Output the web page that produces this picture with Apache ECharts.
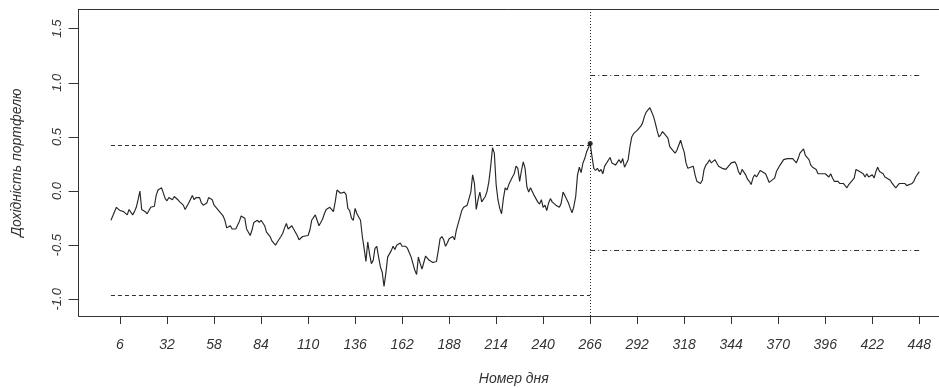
<!DOCTYPE html>
<html>
<head>
<meta charset="utf-8">
<script src="https://cdn.jsdelivr.net/npm/echarts@6/dist/echarts.min.js"></script>
<style>
  html, body { margin: 0; padding: 0; background: #fff; }
  #chart { width: 939px; height: 388px; }
</style>
</head>
<body>
<div id="chart"></div>
<script>
// Day number of each observation
const days = [
  1, 4, 6, 8, 10, 11, 13, 14, 15, 16, 17, 18, 20, 21, 23, 24, 25, 26, 27, 29,
  30, 31, 32, 33, 35, 36, 38, 39, 41, 42, 44, 46, 47, 48, 50, 51, 52, 54, 55, 57,
  58, 60, 61, 63, 64, 65, 67, 68, 69, 70, 72, 73, 75, 76, 78, 79, 80, 82, 83, 84,
  86, 87, 89, 90, 92, 93, 95, 96, 97, 98, 99, 101, 102, 104, 105, 107, 108, 110, 111, 112,
  114, 115, 116, 118, 119, 120, 122, 123, 124, 125, 126, 128, 130, 131, 132, 133, 134, 135, 136, 137,
  139, 140, 141, 142, 143, 144, 145, 146, 147, 148, 149, 150, 151, 152, 153, 154, 155, 156, 157, 158,
  159, 161, 162, 164, 165, 166, 167, 169, 170, 171, 172, 173, 175, 176, 177, 179, 181, 182, 183, 184,
  185, 186, 187, 188, 190, 191, 192, 193, 194, 195, 196, 197, 198, 199, 200, 201, 202, 203, 204, 205,
  206, 208, 209, 210, 211, 212, 213, 214, 215, 216, 217, 218, 219, 220, 221, 223, 224, 225, 226, 227,
  228, 229, 230, 231, 232, 233, 235, 236, 237, 238, 239, 240, 241, 242, 243, 244, 245, 246, 247, 249,
  250, 251, 252, 253, 254, 255, 256, 257, 258, 259, 260, 261, 262, 263, 264, 265, 266, 267, 268, 269,
  270, 271, 272, 273, 274, 275, 277, 278, 279, 280, 282, 283, 284, 285, 287, 288, 289, 290, 292, 293,
  294, 295, 296, 297, 298, 299, 300, 301, 302, 303, 304, 305, 306, 307, 308, 309, 310, 311, 312, 313,
  314, 316, 317, 318, 319, 320, 321, 323, 324, 325, 327, 328, 329, 330, 331, 332, 333, 335, 336, 337,
  339, 340, 341, 343, 344, 346, 347, 348, 349, 350, 352, 353, 354, 355, 356, 357, 358, 359, 360, 361,
  363, 364, 365, 366, 368, 369, 370, 371, 372, 373, 375, 376, 378, 379, 380, 381, 382, 384, 385, 387,
  388, 389, 391, 392, 394, 395, 396, 398, 399, 400, 401, 403, 404, 406, 407, 408, 409, 410, 412, 413,
  414, 415, 417, 418, 419, 420, 422, 423, 424, 425, 426, 428, 429, 430, 432, 433, 435, 436, 437, 438,
  440, 441, 442, 444, 445, 446, 448
];

// Portfolio return on each of those days
const returns = [
  -0.27, -0.15, -0.18, -0.19, -0.22, -0.17, -0.22, -0.19, -0.15, -0.08, 0.00, -0.17, -0.19, -0.21, -0.15, -0.14, -0.14, -0.04, 0.01, 0.03,
  0.04, -0.07, -0.09, -0.06, -0.08, -0.05, -0.08, -0.10, -0.13, -0.17, -0.11, -0.04, -0.08, -0.06, -0.06, -0.11, -0.13, -0.11, -0.06, -0.08,
  -0.13, -0.17, -0.19, -0.23, -0.27, -0.34, -0.32, -0.35, -0.34, -0.35, -0.28, -0.23, -0.25, -0.35, -0.41, -0.36, -0.29, -0.27, -0.29, -0.27,
  -0.32, -0.38, -0.42, -0.46, -0.50, -0.47, -0.42, -0.39, -0.34, -0.30, -0.35, -0.32, -0.35, -0.41, -0.45, -0.42, -0.42, -0.41, -0.36, -0.27,
  -0.22, -0.27, -0.32, -0.26, -0.21, -0.17, -0.15, -0.17, -0.19, -0.10, 0.01, -0.02, -0.01, -0.03, -0.16, -0.18, -0.25, -0.27, -0.16, -0.21,
  -0.27, -0.42, -0.53, -0.65, -0.47, -0.58, -0.67, -0.64, -0.53, -0.51, -0.61, -0.70, -0.75, -0.88, -0.76, -0.61, -0.58, -0.55, -0.51, -0.54,
  -0.50, -0.48, -0.51, -0.51, -0.53, -0.57, -0.61, -0.73, -0.77, -0.61, -0.67, -0.72, -0.60, -0.61, -0.64, -0.66, -0.65, -0.55, -0.44, -0.42,
  -0.45, -0.51, -0.48, -0.44, -0.42, -0.45, -0.36, -0.30, -0.24, -0.18, -0.15, -0.16, -0.13, -0.07, -0.01, 0.15, 0.07, -0.17, -0.08, -0.01,
  -0.10, -0.05, 0.00, 0.09, 0.23, 0.40, 0.35, 0.06, -0.08, -0.16, -0.21, -0.07, 0.03, 0.01, 0.06, 0.13, 0.16, 0.23, 0.21, 0.09,
  0.19, 0.27, 0.21, 0.04, -0.01, 0.03, -0.04, -0.05, -0.10, -0.12, -0.08, -0.15, -0.13, -0.18, -0.11, -0.07, -0.10, -0.11, -0.13, -0.15,
  -0.11, -0.01, -0.04, -0.05, -0.11, -0.16, -0.20, -0.14, -0.05, 0.15, 0.22, 0.17, 0.26, 0.30, 0.36, 0.40, 0.44, 0.32, 0.21, 0.19,
  0.21, 0.18, 0.20, 0.16, 0.23, 0.22, 0.31, 0.26, 0.27, 0.24, 0.29, 0.26, 0.30, 0.22, 0.29, 0.41, 0.50, 0.53, 0.56, 0.56,
  0.60, 0.63, 0.69, 0.73, 0.72, 0.77, 0.73, 0.69, 0.63, 0.56, 0.50, 0.52, 0.55, 0.53, 0.51, 0.49, 0.41, 0.40, 0.37, 0.35,
  0.38, 0.47, 0.41, 0.36, 0.26, 0.21, 0.22, 0.23, 0.15, 0.09, 0.07, 0.10, 0.20, 0.24, 0.26, 0.29, 0.26, 0.29, 0.26, 0.23,
  0.21, 0.22, 0.20, 0.24, 0.26, 0.27, 0.24, 0.18, 0.15, 0.20, 0.15, 0.11, 0.09, 0.06, 0.12, 0.15, 0.13, 0.16, 0.19, 0.18,
  0.16, 0.12, 0.08, 0.07, 0.12, 0.18, 0.21, 0.24, 0.24, 0.29, 0.30, 0.29, 0.30, 0.29, 0.26, 0.30, 0.35, 0.39, 0.33, 0.29,
  0.24, 0.22, 0.20, 0.16, 0.16, 0.15, 0.16, 0.13, 0.16, 0.12, 0.09, 0.09, 0.07, 0.07, 0.05, 0.03, 0.06, 0.07, 0.12, 0.20,
  0.19, 0.18, 0.16, 0.13, 0.16, 0.13, 0.15, 0.12, 0.18, 0.22, 0.18, 0.16, 0.13, 0.13, 0.10, 0.07, 0.03, 0.05, 0.07, 0.06,
  0.07, 0.05, 0.04, 0.07, 0.09, 0.13, 0.18
];

// Axis ticks
const dayTicks = [6, 32, 58, 84, 110, 136, 162, 188, 214, 240, 266, 292, 318, 344, 370, 396, 422, 448];
const returnTicks = [-1.0, -0.5, 0.0, 0.5, 1.0, 1.5];

// Split between the two periods and the bounds drawn for each one
const splitDay = 266;
const splitReturn = 0.44;
const firstPeriod = [1, 266];
const secondPeriod = [266, 448];
const firstPeriodBounds = [0.42, -0.96];
const secondPeriodBounds = [1.07, -0.55];

const FONT = '"Liberation Sans", Arial, sans-serif';
const INK = '#333333';

const segment = (range, level, dash) => [
  { coord: [range[0], level], lineStyle: { color: INK, width: 1, type: dash } },
  { coord: [range[1], level] }
];

const chart = echarts.init(document.getElementById('chart'), null, { renderer: 'canvas' });

chart.setOption({
  animation: false,
  backgroundColor: '#ffffff',
  grid: {
    left: 78.6,
    right: 0,
    top: 9.3,
    bottom: 72,
    containLabel: false,
    outerBoundsMode: 'none'
  },
  xAxis: [
    {
      type: 'value',
      min: -16.9,
      max: 458.9,
      position: 'bottom',
      axisLine: { show: true, onZero: false, lineStyle: { color: INK, width: 1 } },
      axisTick: { show: true, customValues: dayTicks, length: 8, inside: false, lineStyle: { color: INK, width: 1 } },
      axisLabel: {
        show: true, customValues: dayTicks, margin: 22,
        fontFamily: FONT, fontStyle: 'italic', fontSize: 14, color: INK
      },
      splitLine: { show: false },
      name: 'Номер дня',
      nameLocation: 'middle',
      nameGap: 56,
      nameTextStyle: { fontFamily: FONT, fontStyle: 'italic', fontSize: 14, color: INK, padding: [0, 0, 0, 10] }
    },
    {
      type: 'value',
      min: -16.9,
      max: 458.9,
      position: 'top',
      axisLine: { show: true, onZero: false, lineStyle: { color: INK, width: 1 } },
      axisTick: { show: false },
      axisLabel: { show: false },
      splitLine: { show: false }
    }
  ],
  yAxis: {
    type: 'value',
    min: -1.154,
    max: 1.679,
    axisLine: { show: true, onZero: false, lineStyle: { color: INK, width: 1 } },
    axisTick: { show: true, customValues: returnTicks, length: 10, inside: false, lineStyle: { color: INK, width: 1 } },
    axisLabel: {
      show: true, customValues: returnTicks, rotate: 90, margin: 15,
      formatter: v => v.toFixed(1),
      fontFamily: FONT, fontStyle: 'italic', fontSize: 13, color: INK
    },
    splitLine: { show: false },
    name: 'Дохідність портфелю',
    nameLocation: 'middle',
    nameGap: 54,
    nameRotate: 90,
    nameTextStyle: { fontFamily: FONT, fontStyle: 'italic', fontSize: 14, color: INK }
  },
  series: [
    {
      type: 'line',
      xAxisIndex: 0,
      data: days.map((d, i) => [d, returns[i]]),
      showSymbol: false,
      symbol: 'none',
      lineStyle: { color: '#262626', width: 1.15 },
      z: 3,
      markLine: {
        silent: true,
        symbol: ['none', 'none'],
        label: { show: false },
        data: [
          { xAxis: splitDay, lineStyle: { color: '#222', width: 1, type: [1, 2] } },
          segment(firstPeriod, firstPeriodBounds[0], [4, 3]),
          segment(firstPeriod, firstPeriodBounds[1], [4, 3]),
          segment(secondPeriod, secondPeriodBounds[0], [5, 3, 1, 3]),
          segment(secondPeriod, secondPeriodBounds[1], [5, 3, 1, 3])
        ]
      }
    },
    {
      type: 'scatter',
      xAxisIndex: 0,
      data: [[splitDay, splitReturn]],
      symbol: 'circle',
      symbolSize: 5,
      itemStyle: { color: '#000' },
      z: 4
    }
  ]
});
</script>
</body>
</html>
